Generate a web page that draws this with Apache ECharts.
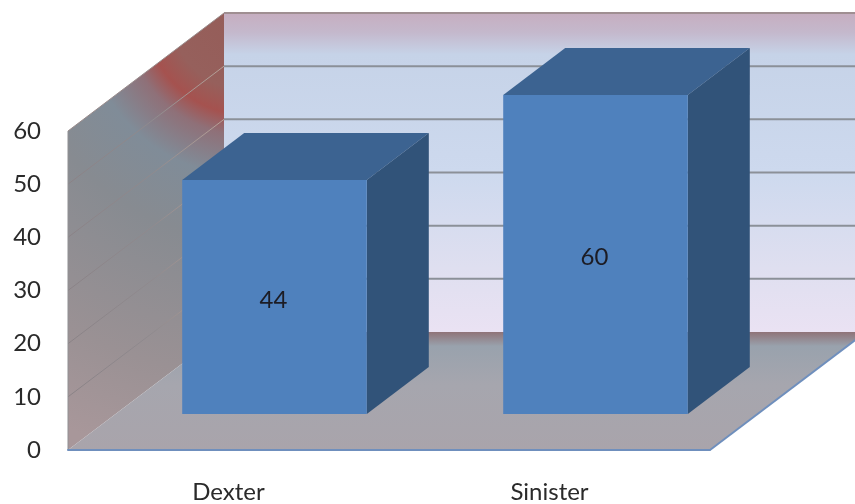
<!DOCTYPE html>
<html>
<head>
<meta charset="utf-8">
<style>html,body{margin:0;padding:0;background:#fff}#chart{width:855px;height:504px}</style>
<script src="https://cdn.jsdelivr.net/npm/echarts@6/dist/echarts.min.js"></script>
</head>
<body>
<div id="chart"></div>
<script>
const categories = ['Dexter', 'Sinister'];
const counts = [44, 60];
const wallTicks = [10, 20, 30, 40, 50];

const axisMax = 60;
const axisStep = 10;

// Pseudo-3D projection, in pixels: how far each depth step shifts on screen.
const roomDepth = [156, -118];
const barInset = [46, -36];
const barDepth = [62, -47];
const barShare = 0.575;

const G = echarts.graphic;
const shift = (p, d) => [p[0] + d[0], p[1] + d[1]];

function wallsItem(params, api) {
  const half = api.size([1, 0])[0] / 2;
  const x0 = api.coord([0, 0])[0] - half;
  const x1 = api.coord([categories.length - 1, 0])[0] + half;
  const yAt = v => api.coord([0, v])[1];
  const fl = [x0, yAt(0)], fr = [x1, yAt(0)];
  const tl = [x0, yAt(axisMax)], tr = [x1, yAt(axisMax)];
  const bfl = shift(fl, roomDepth), bfr = shift(fr, roomDepth);
  const btl = shift(tl, roomDepth), btr = shift(tr, roomDepth);

  const children = [
    {
      type: 'polygon',
      shape: { points: [btl, btr, bfr, bfl] },
      style: {
        fill: new G.LinearGradient(0, 0, 0, 1, [
          { offset: 0, color: '#c6aec0' },
          { offset: 0.06, color: '#c4b8cc' },
          { offset: 0.13, color: '#c6d3e8' },
          { offset: 0.5, color: '#cdd9ee' },
          { offset: 0.8, color: '#dfdff0' },
          { offset: 1, color: '#eae2f3' }
        ])
      }
    },
    {
      type: 'polygon',
      shape: { points: [tl, btl, bfl, fl] },
      style: {
        fill: new G.RadialGradient(1.15, 0, 2.9, [
          { offset: 0, color: '#955c58' },
          { offset: 0.17, color: '#96605c' },
          { offset: 0.225, color: '#a5524f' },
          { offset: 0.27, color: '#8f7078' },
          { offset: 0.36, color: '#808c98' },
          { offset: 0.5, color: '#878b91' },
          { offset: 0.8, color: '#9a9194' },
          { offset: 1, color: '#a8979a' }
        ])
      }
    },
    {
      type: 'polygon',
      shape: { points: [fl, fr, bfr, bfl] },
      style: {
        fill: new G.LinearGradient(0, 0, 0, 1, [
          { offset: 0, color: '#8f7378' },
          { offset: 0.12, color: '#99a2ad' },
          { offset: 0.45, color: '#a6a6ae' },
          { offset: 1, color: '#a9a4ab' }
        ])
      }
    }
  ];

  // Grid lines run along the back wall and down the side wall.
  wallTicks.forEach(v => {
    const front = [x0, yAt(v)];
    const back = shift(front, roomDepth);
    children.push({
      type: 'line',
      shape: { x1: back[0], y1: back[1], x2: back[0] + (x1 - x0), y2: back[1] },
      style: { stroke: '#8b9098', lineWidth: 2 }
    });
    children.push({
      type: 'line',
      shape: { x1: front[0], y1: front[1], x2: back[0], y2: back[1] },
      style: {
        stroke: new G.LinearGradient(0, 0, 1, 0, [
          { offset: 0, color: '#8a8286' },
          { offset: 0.55, color: '#8f8a8e' },
          { offset: 1, color: '#b8a298' }
        ]),
        lineWidth: 1
      }
    });
  });

  // Room outline: top of the back wall, top of the side wall, floor's right edge.
  children.push(
    { type: 'line', shape: { x1: btl[0], y1: btl[1], x2: btr[0], y2: btr[1] }, style: { stroke: '#a08f92', lineWidth: 2 } },
    { type: 'line', shape: { x1: tl[0], y1: tl[1], x2: btl[0], y2: btl[1] }, style: { stroke: '#9a8c8c', lineWidth: 1 } },
    { type: 'line', shape: { x1: tl[0], y1: tl[1], x2: fl[0], y2: fl[1] }, style: { stroke: '#8f8f92', lineWidth: 1 } },
    { type: 'line', shape: { x1: fr[0], y1: fr[1], x2: bfr[0], y2: bfr[1] }, style: { stroke: '#6f8fbd', lineWidth: 2 } }
  );
  return { type: 'group', children };
}

function barItem(params, api) {
  const band = api.size([1, 0])[0];
  const w = band * barShare;
  const cx = api.coord([api.value(0), 0])[0] + barInset[0];
  const y0 = api.coord([0, 0])[1] + barInset[1];
  const yv = api.coord([0, api.value(1)])[1] + barInset[1];
  const a = [cx - w / 2, yv], b = [cx + w / 2, yv], c = [cx + w / 2, y0], d = [cx - w / 2, y0];
  return {
    type: 'group',
    children: [
      {
        type: 'polygon',
        shape: { points: [a, shift(a, barDepth), shift(b, barDepth), b] },
        style: { fill: '#3c6391' }
      },
      {
        type: 'polygon',
        shape: { points: [b, shift(b, barDepth), shift(c, barDepth), c] },
        style: { fill: '#315379' }
      },
      {
        type: 'polygon',
        shape: { points: [a, b, c, d] },
        style: { fill: '#4f81bd' }
      },
      {
        type: 'text',
        style: {
          x: cx - 1,
          y: (yv + y0) / 2 + 3,
          text: String(api.value(1)),
          font: '24px Lato',
          fill: '#1c1c24',
          align: 'center',
          verticalAlign: 'middle'
        }
      }
    ]
  };
}

const chart = echarts.init(document.getElementById('chart'), null, { renderer: 'canvas' });
chart.setOption({
  animation: false,
  backgroundColor: '#ffffff',
  grid: { left: 68, top: 131, width: 642, height: 319, containLabel: false },
  xAxis: {
    type: 'category',
    data: categories,
    z: 5,
    axisTick: { show: false },
    axisLine: { show: true, lineStyle: { color: '#6f8fbd', width: 2 } },
    axisLabel: { color: '#2a2a2a', fontFamily: 'Lato', fontSize: 24, margin: 30 },
    splitLine: { show: false }
  },
  yAxis: {
    type: 'value',
    min: 0,
    max: axisMax,
    interval: axisStep,
    axisLine: { show: false },
    axisTick: { show: false },
    axisLabel: { color: '#2a2a2a', fontFamily: 'Lato', fontSize: 24, margin: 27 },
    splitLine: { show: false }
  },
  series: [
    { type: 'custom', silent: true, clip: false, z: 1, data: [[0, 0]], renderItem: wallsItem, encode: { x: 0, y: 1 } },
    {
      type: 'custom',
      silent: true,
      clip: false,
      z: 2,
      data: categories.map((c, i) => [i, counts[i]]),
      renderItem: barItem,
      encode: { x: 0, y: 1 }
    }
  ]
});
</script>
</body>
</html>
